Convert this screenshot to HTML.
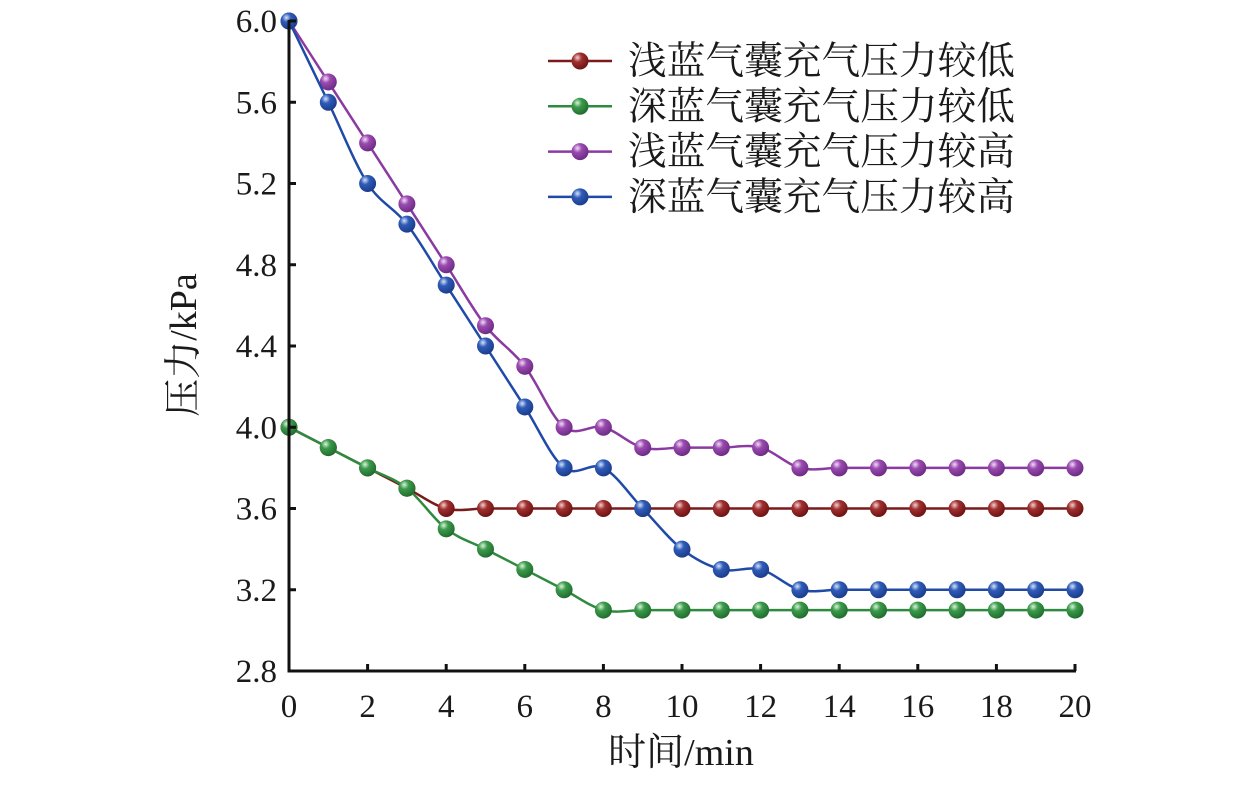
<!DOCTYPE html>
<html><head><meta charset="utf-8"><style>
body{margin:0;background:#fff}
text{font-family:"Liberation Serif","Noto Serif CJK SC","Noto Sans CJK SC",serif;fill:#1a1a1a}
</style></head><body>
<svg id="s" width="1259" height="780" xmlns="http://www.w3.org/2000/svg">
<defs>
<radialGradient id="gr" cx="0.35" cy="0.3" r="0.75"><stop offset="0" stop-color="#f4d0d0"/><stop offset="0.35" stop-color="#a03030"/><stop offset="1" stop-color="#6a1010"/></radialGradient>
<radialGradient id="gg" cx="0.35" cy="0.3" r="0.75"><stop offset="0" stop-color="#d8f4d8"/><stop offset="0.35" stop-color="#3c9a4c"/><stop offset="1" stop-color="#1f6a2c"/></radialGradient>
<radialGradient id="gp" cx="0.35" cy="0.3" r="0.75"><stop offset="0" stop-color="#f2dcf6"/><stop offset="0.35" stop-color="#9a4ab0"/><stop offset="1" stop-color="#6a2a80"/></radialGradient>
<radialGradient id="gb" cx="0.35" cy="0.3" r="0.75"><stop offset="0" stop-color="#d6e2fa"/><stop offset="0.35" stop-color="#2f5cb8"/><stop offset="1" stop-color="#1a3a88"/></radialGradient>
</defs>
<g id="plot"></g>
<g stroke="#111" stroke-width="3" fill="none">
<path d="M289,20 L289,671 L1076,671"/>
</g>
<g id="ticks" stroke="#111" stroke-width="3"></g>
<g id="labels" font-size="33"></g>
<text x="681" y="765" font-size="38" text-anchor="middle">时间/min</text>
<text transform="translate(196,345) rotate(-90)" font-size="38" text-anchor="middle">压力/kPa</text>
<g id="legend" font-size="38.5"></g>
</svg>
<script>
const NS="http://www.w3.org/2000/svg";
const X=v=>289+v*39.3, Y=v=>21+(6-v)/3.2*650;
function el(t,a,p,txt){const e=document.createElementNS(NS,t);for(const k in a)e.setAttribute(k,a[k]);if(txt!=null)e.textContent=txt;p.appendChild(e);return e;}
const tk=document.getElementById('ticks'),lb=document.getElementById('labels');
for(let i=0;i<=10;i++){const x=X(i*2);el('line',{x1:x,y1:671,x2:x,y2:664},tk);el('text',{x:x,y:717,'text-anchor':'middle'},lb,String(i*2));}
for(let i=0;i<=8;i++){const v=2.8+i*0.4,y=Y(v);el('line',{x1:289,y1:y,x2:296,y2:y},tk);el('text',{x:277,y:y+11,'text-anchor':'end'},lb,v.toFixed(1));}
const data=[
["#7a1a1a","gr",[4.0,3.9,3.8,3.7,3.6,3.6,3.6,3.6,3.6,3.6,3.6,3.6,3.6,3.6,3.6,3.6,3.6,3.6,3.6,3.6,3.6]],
["#2e8a3e","gg",[4.0,3.9,3.8,3.7,3.5,3.4,3.3,3.2,3.1,3.1,3.1,3.1,3.1,3.1,3.1,3.1,3.1,3.1,3.1,3.1,3.1]],
["#8a3aa0","gp",[6.0,5.7,5.4,5.1,4.8,4.5,4.3,4.0,4.0,3.9,3.9,3.9,3.9,3.8,3.8,3.8,3.8,3.8,3.8,3.8,3.8]],
["#1f4aa8","gb",[6.0,5.6,5.2,5.0,4.7,4.4,4.1,3.8,3.8,3.6,3.4,3.3,3.3,3.2,3.2,3.2,3.2,3.2,3.2,3.2,3.2]]];
const pl=document.getElementById('plot');
data.forEach(([c,g,d])=>{const P=d.map((v,i)=>[X(i),Y(v)]);let s=`M${P[0][0]},${P[0][1]}`;
for(let i=0;i<P.length-1;i++){const p0=P[Math.max(0,i-1)],p1=P[i],p2=P[i+1],p3=P[Math.min(P.length-1,i+2)];
s+=` C${p1[0]+(p2[0]-p0[0])/6},${p1[1]+(p2[1]-p0[1])/6} ${p2[0]-(p3[0]-p1[0])/6},${p2[1]-(p3[1]-p1[1])/6} ${p2[0]},${p2[1]}`;}
el('path',{d:s,stroke:c,'stroke-width':2.5,fill:'none'},pl);
P.forEach(p=>el('circle',{cx:p[0],cy:p[1],r:8.5,fill:`url(#${g})`},pl));});
const lg=document.getElementById('legend');
const names=["浅蓝气囊充气压力较低","深蓝气囊充气压力较低","浅蓝气囊充气压力较高","深蓝气囊充气压力较高"];
data.forEach(([c,g],i)=>{const y=61+i*45.3;el('line',{x1:548,y1:y,x2:612,y2:y,stroke:c,'stroke-width':2.5},lg);
el('circle',{cx:580,cy:y,r:8.5,fill:`url(#${g})`},lg);el('text',{x:628,y:y+13,textLength:387,lengthAdjust:'spacingAndGlyphs'},lg,names[i]);});
</script>
</body></html>
